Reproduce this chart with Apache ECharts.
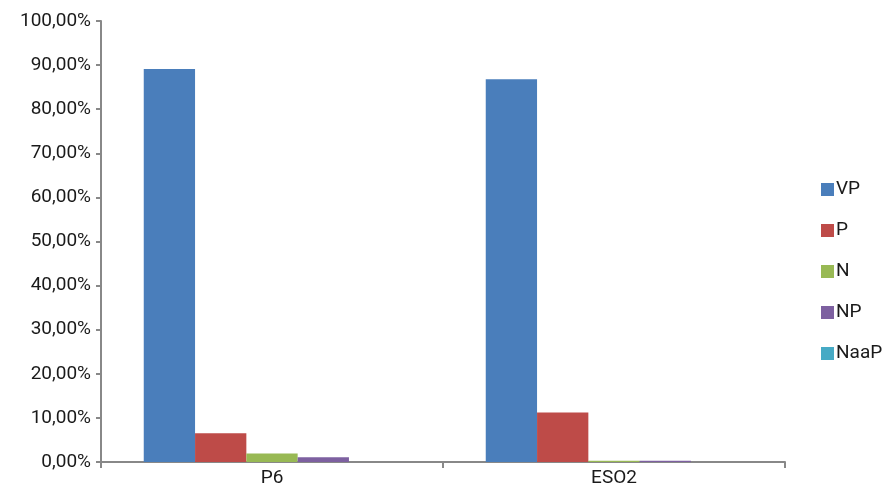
<!DOCTYPE html>
<html><head><meta charset="utf-8">
<script src="https://cdn.jsdelivr.net/npm/echarts@6/dist/echarts.min.js"></script>
<style>html,body{margin:0;padding:0;background:#fff}#c{width:896px;height:488px}</style>
</head><body><div id="c"></div>
<script>
const categories = ['P6', 'ESO2'];
const seriesNames = ['VP', 'P', 'N', 'NP', 'NaaP'];
const VP = [89.1, 86.8];
const P = [6.5, 11.2];
const N = [1.9, 0.3];
const NP = [1.1, 0.3];
const NaaP = [0, 0];
const colors = ['#4A7EBB', '#BE4B48', '#98B954', '#7D60A0', '#46AAC5'];
const values = [VP, P, N, NP, NaaP];

const chart = echarts.init(document.getElementById('c'), null, {renderer: 'canvas'});
const font = 'Roboto, "Noto Sans", sans-serif';
chart.setOption({
  animation: false,
  grid: {left: 101, right: 111, top: 21, bottom: 26, containLabel: false},
  legend: {
    orient: 'vertical', left: 816, top: 175, itemGap: 22,
    itemWidth: 13, itemHeight: 13, icon: 'rect',
    textStyle: {fontFamily: font, fontSize: 19, color: '#1a1a1a', padding: [0, 0, 0, -3]},
    data: seriesNames
  },
  xAxis: {
    type: 'category', data: categories,
    axisLine: {lineStyle: {color: '#888', width: 2}},
    axisTick: {show: true, alignWithLabel: false, length: 6, lineStyle: {color: '#888', width: 2}},
    axisLabel: {fontFamily: font, fontSize: 19, color: '#1a1a1a', margin: 7}
  },
  yAxis: {
    type: 'value', min: 0, max: 100, interval: 10,
    axisLine: {show: true, lineStyle: {color: '#888', width: 2}},
    axisTick: {show: true, length: 5, lineStyle: {color: '#888', width: 2}},
    splitLine: {show: false},
    axisLabel: {fontFamily: font, fontSize: 19, color: '#1a1a1a', margin: 10,
      formatter: v => v.toFixed(2).replace('.', ',') + '%'}
  },
  series: seriesNames.map((n, i) => ({
    name: n, type: 'bar', data: values[i], barGap: '0%', barCategoryGap: '25%',
    itemStyle: {color: colors[i]}
  }))
});
</script></body></html>
